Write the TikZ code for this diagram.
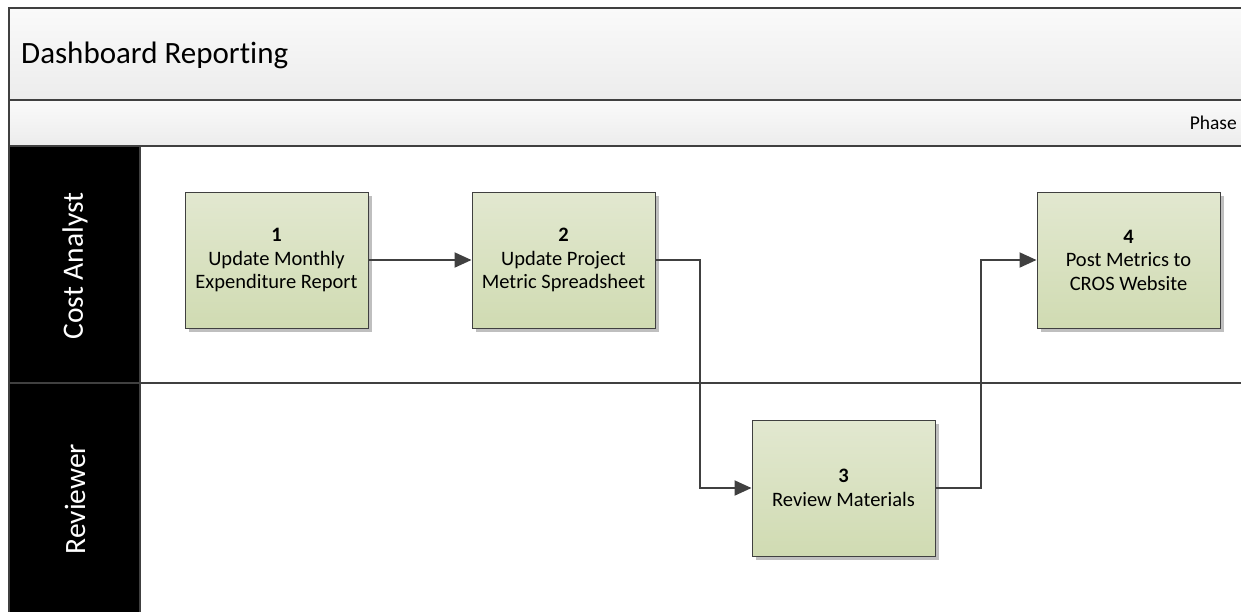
\documentclass[tikz,border=0pt]{standalone}
\usepackage{fontspec}
\setmainfont{Carlito}[Ligatures=NoCommon]
\usetikzlibrary{arrows.meta,shadows}
\definecolor{edge}{HTML}{404040}
\definecolor{boxtop}{HTML}{E2E8D0}
\definecolor{boxbot}{HTML}{D0DBB2}
\definecolor{bandtop}{HTML}{FAFAFA}
\definecolor{bandbot}{HTML}{ECECEC}
\tikzset{
  stepbox/.style={rectangle, draw=edge, line width=1pt, minimum width=183pt, minimum height=136pt,
    top color=boxtop, bottom color=boxbot, align=center, text=black,
    font=\fontsize{20.5}{23.5}\selectfont,
    drop shadow={shadow xshift=4pt, shadow yshift=-4pt, fill=gray!50, opacity=1}},
  arr/.style={draw=edge, line width=2pt, -{Triangle[length=17pt,width=15pt]}},
  band/.style={draw=edge, line width=2pt, top color=bandtop, bottom color=bandbot},
  lanehead/.style={fill=black, draw=edge, line width=2pt},
  lanelabel/.style={rotate=90, text=white, font=\fontsize{29.5}{34}\selectfont}
}
\begin{document}
\begin{tikzpicture}[x=1pt,y=-1pt]
\useasboundingbox (0,0) rectangle (1241,611);
\begin{scope}
\clip (0,0) rectangle (1241,611);
\fill[white] (0,0) rectangle (1241,611);
\path[band] (9,8) rectangle (1260,100);
\path[band] (9,100) rectangle (1260,146);
\path[lanehead] (9,146) rectangle (140,383);
\path[lanehead] (9,383) rectangle (140,630);
\draw[edge, line width=2pt] (140,383) -- (1260,383);
\end{scope}
\node[anchor=base west, inner sep=0pt, font=\fontsize{31}{36}\selectfont] (title) at (21,63) {Dashboard Reporting};
\node[anchor=base east, inner sep=0pt, font=\fontsize{19.5}{23}\selectfont] (phase) at (1237,129) {Phase};
\node[lanelabel] (lane1) at (75,266) {Cost Analyst};
\node[lanelabel] (lane2) at (75,499) {Reviewer};
\node[stepbox] (b1) at (276.5,260) {{\bfseries 1}\\Update Monthly\\Expenditure Report};
\node[stepbox] (b2) at (563.5,260) {{\bfseries 2}\\Update Project\\Metric Spreadsheet};
\node[stepbox] (b3) at (843.5,488) {{\bfseries 3}\\Review Materials};
\node[stepbox] (b4) at (1128.5,260) {{\bfseries 4}\\Post Metrics to\\CROS Website};
\draw[arr] (b1) -- (b2);
\draw[arr] (b2.east) -- ++(44,0) |- (b3);
\draw[arr] (b3.east) -- ++(45,0) |- (b4);
\end{tikzpicture}
\end{document}
